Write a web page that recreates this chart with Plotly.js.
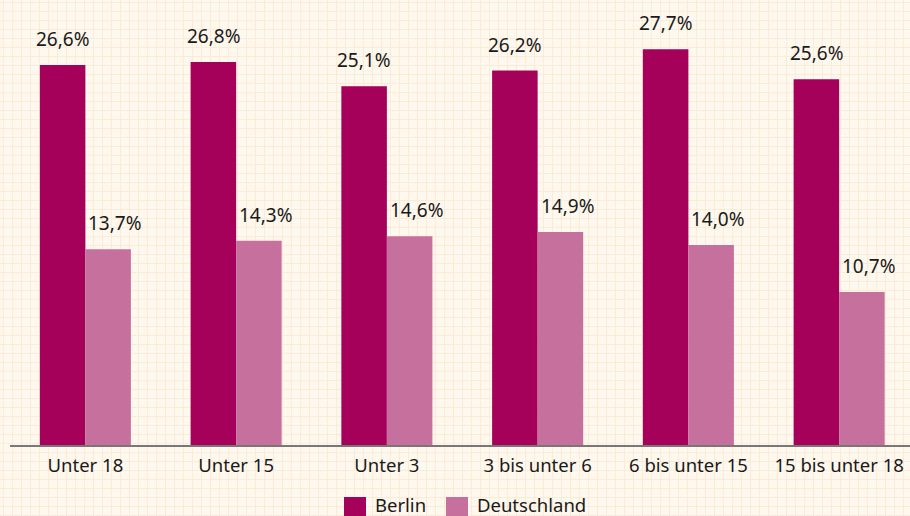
<!DOCTYPE html>
<html>
<head>
<meta charset="utf-8">
<script src="https://cdn.plot.ly/plotly-3.0.1.min.js"></script>
<style>
  html, body { margin:0; padding:0; }
  body {
    width:910px; height:516px; overflow:hidden;
    background-color:#FFF8EE;
    background-image:
      linear-gradient(to right, #FCEBD7 1px, transparent 1px),
      linear-gradient(to bottom, #FCEBD7 1px, transparent 1px);
    background-size:9px 9px;
    background-position:3px 2px;
  }
  #chart { width:910px; height:516px; }
</style>
</head>
<body>
<div id="chart"></div>
<script>
const categories = ["Unter 18", "Unter 15", "Unter 3", "3 bis unter 6", "6 bis unter 15", "15 bis unter 18"];
const berlin = [26.6, 26.8, 25.1, 26.2, 27.7, 25.6];
const deutschland = [13.7, 14.3, 14.6, 14.9, 14.0, 10.7];
const seriesNames = ["Berlin", "Deutschland"];
const colors = ["#A5005A", "#C6719D"];

const fmt = v => v.toFixed(1).replace('.', ',') + '%';
const FONT = "Noto Sans, sans-serif";
const TXT = '#1a1a1a';

const traces = [berlin, deutschland].map((vals, i) => ({
  type: 'bar',
  name: seriesNames[i],
  x: categories,
  y: vals,
  marker: { color: colors[i], line: { width: 0 } },
  hoverinfo: 'skip',
  showlegend: false
}));

const annotations = [];
[berlin, deutschland].forEach((vals, i) => {
  vals.forEach((v, j) => {
    annotations.push({
      x: categories[j], y: v, xref: 'x', yref: 'y',
      text: fmt(v), showarrow: false,
      xshift: i === 0 ? -22.5 : 30, yshift: 11,
      yanchor: 'bottom', xanchor: 'center',
      font: { family: FONT, size: 19, color: TXT }
    });
  });
});

// manual legend (plot area: x 10..910 px, y 0..445 px)
const px = p => (p - 10) / 900;
const py = p => (445 - p) / 445;
const legendItems = [
  { name: seriesNames[0], color: colors[0], x0: 344 },
  { name: seriesNames[1], color: colors[1], x0: 446 }
];
const shapes = [];
legendItems.forEach(it => {
  shapes.push({
    type: 'rect', xref: 'paper', yref: 'paper',
    x0: px(it.x0), x1: px(it.x0 + 22), y0: py(497), y1: py(519),
    fillcolor: it.color, line: { width: 0 }
  });
  annotations.push({
    xref: 'paper', yref: 'paper', x: px(it.x0 + 29), y: py(504),
    xanchor: 'left', yanchor: 'middle', showarrow: false,
    text: it.name, font: { family: FONT, size: 18.5, color: TXT }
  });
});

const layout = {
  width: 910, height: 516,
  margin: { l: 10, r: 0, t: 0, b: 71 },
  paper_bgcolor: 'rgba(0,0,0,0)',
  plot_bgcolor: 'rgba(0,0,0,0)',
  barmode: 'group',
  bargap: 0.396,
  bargroupgap: 0,
  xaxis: {
    type: 'category',
    range: [-0.5, 5.47],
    showline: true, linecolor: '#777', linewidth: 1.5,
    ticks: '', showgrid: false, zeroline: false,
    ticklabelstandoff: 3,
    tickfont: { family: FONT, size: 18.5, color: TXT },
    fixedrange: true
  },
  yaxis: {
    range: [0, 31.14],
    visible: false, showgrid: false, zeroline: false,
    fixedrange: true
  },
  showlegend: false,
  shapes: shapes,
  annotations: annotations
};

Plotly.newPlot('chart', traces, layout, { displayModeBar: false, staticPlot: true });
</script>
</body>
</html>
